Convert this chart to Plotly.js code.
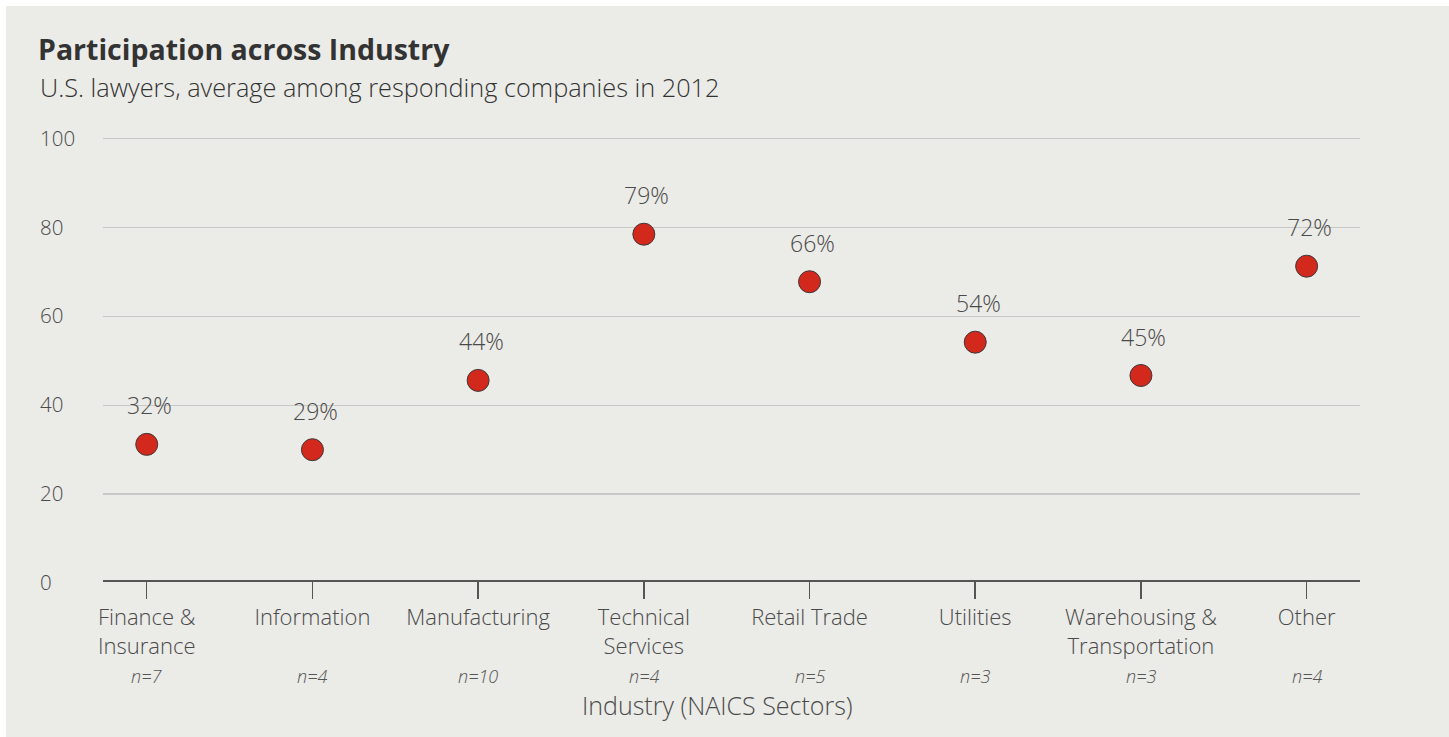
<!DOCTYPE html>
<html>
<head>
<meta charset="utf-8">
<script src="https://cdn.plot.ly/plotly-3.0.1.min.js"></script>
<style>
  html, body { margin: 0; padding: 0; background: #ffffff; width: 1449px; height: 737px; overflow: hidden; }
  #chart { position: absolute; left: 6px; top: 6px; width: 1443px; height: 731px; }
</style>
</head>
<body>
<div id="chart"></div>
<script>
// ---- data ----
const categories = ["Finance &<br>Insurance", "Information", "Manufacturing", "Technical<br>Services",
                    "Retail Trade", "Utilities", "Warehousing &<br>Transportation", "Other"];
const values = [31.2, 30.0, 45.6, 78.5, 67.8, 54.2, 46.7, 71.3];
const valueLabels = ["32%", "29%", "44%", "79%", "66%", "54%", "45%", "72%"];
const sampleSizes = ["n=7", "n=4", "n=10", "n=4", "n=5", "n=3", "n=3", "n=4"];
const yTicks = [0, 20, 40, 60, 80, 100];

const FONT = "'Open Sans', 'Noto Sans', sans-serif";
const TXT = "#4a4a4a";

const idx = categories.map((c, i) => i);

const trace = {
  type: "scatter",
  mode: "markers",
  x: idx,
  y: values,
  marker: { size: 22, color: "#d3281c", line: { color: "#3a3a3a", width: 1 } },
  cliponaxis: false,
  hoverinfo: "skip"
};

const annotations = [];
// value labels above the markers
values.forEach((v, i) => annotations.push({
  xref: "x", yref: "y", x: i, y: v, xanchor: "center", yanchor: "middle",
  yshift: 39, xshift: 3, text: valueLabels[i], showarrow: false,
  font: { family: FONT, size: 23, color: TXT, weight: 300 }
}));
// y tick labels, left aligned
yTicks.forEach(v => annotations.push({
  xref: "paper", yref: "y", x: -0.0517, y: v, xanchor: "left", yanchor: "middle",
  text: String(v), showarrow: false, yshift: 1,
  font: { family: FONT, size: 20.5, color: TXT, weight: 300 }
}));
// sample sizes
sampleSizes.forEach((s, i) => annotations.push({
  xref: "x", yref: "paper", x: i, y: -0.2075, xanchor: "center", yanchor: "middle",
  text: "<i>" + s + "</i>", showarrow: false,
  font: { family: FONT, size: 18, color: "#555555", weight: 300 }
}));
// x axis title
annotations.push({
  xref: "paper", yref: "paper", x: 0.489, y: -0.272, xanchor: "center", yanchor: "middle",
  text: "Industry (NAICS Sectors)", showarrow: false,
  font: { family: FONT, size: 25, color: TXT, weight: 300 }
});
// subtitle
annotations.push({
  xref: "paper", yref: "paper", x: -0.0517, y: 1.109, xanchor: "left", yanchor: "middle",
  text: "U.S. lawyers, average among responding companies in 2012", showarrow: false,
  font: { family: FONT, size: 25.3, color: "#333333", weight: 300 }
});

const layout = {
  width: 1443, height: 731,
  paper_bgcolor: "#ebebe7",
  plot_bgcolor: "#ebebe7",
  margin: { l: 97, r: 89, t: 130, b: 154, pad: 0 },
  showlegend: false,
  title: {
    text: "<b>Participation across Industry</b>",
    xref: "container", yref: "container",
    x: 32 / 1443, xanchor: "left",
    y: 1 - 44 / 731, yanchor: "middle",
    font: { family: FONT, size: 28.5, color: "#333333" }
  },
  xaxis: {
    type: "linear",
    range: [-0.264, 7.322],
    tickmode: "array",
    tickvals: idx,
    ticktext: categories,
    ticks: "outside", ticklen: 17, tickwidth: 1.5, tickcolor: "#555555",
    showline: true, linecolor: "#555555", linewidth: 1.5,
    showgrid: false, zeroline: false,
    anchor: "free", position: 0.006,
    tickfont: { family: FONT, size: 22, color: TXT, weight: 300 },
    fixedrange: true
  },
  yaxis: {
    range: [0, 100.6],
    tickmode: "array", tickvals: yTicks,
    showticklabels: false,
    showgrid: true, gridcolor: "#c8c8c8", gridwidth: 1.5,
    zeroline: false, showline: false,
    fixedrange: true
  },
  annotations: annotations
};

Plotly.newPlot("chart", [trace], layout, { displayModeBar: false, staticPlot: true });
</script>
</body>
</html>
